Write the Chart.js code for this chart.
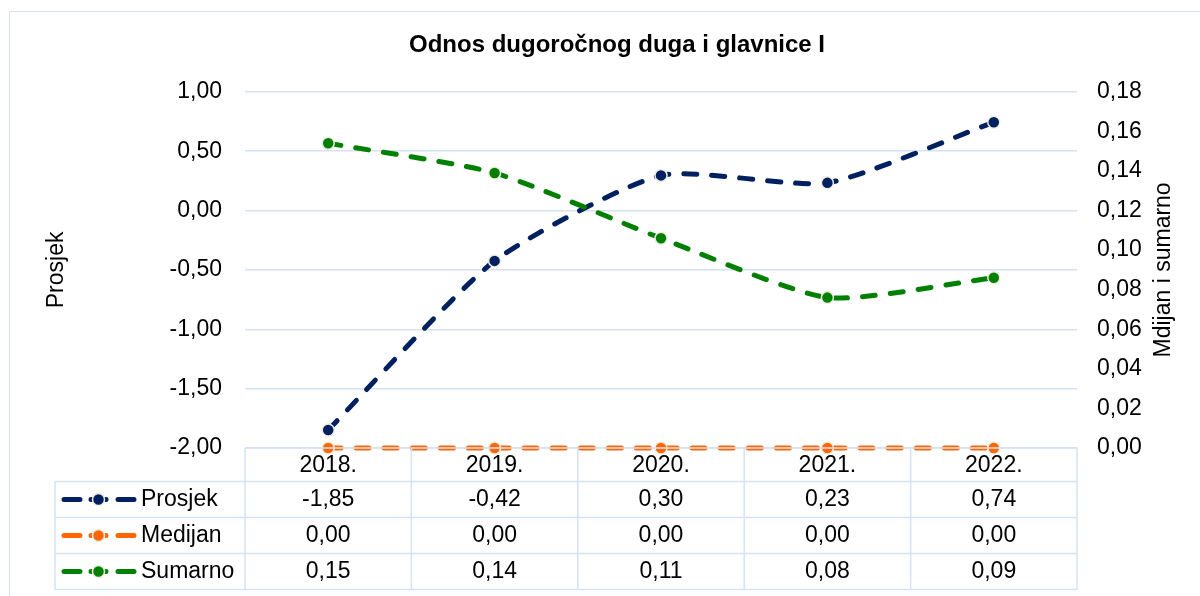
<!DOCTYPE html>
<html>
<head>
<meta charset="utf-8">
<script src="https://cdn.jsdelivr.net/npm/chart.js@4.4.1/dist/chart.umd.min.js"></script>
<style>
body { margin: 0; width: 1200px; height: 596px; overflow: hidden; background: #fff; position: relative; }
#frame { position: absolute; left: 9px; top: 11px; width: 1300px; height: 700px; border: 1.5px solid #d6e2f3; }
#wrap { position: absolute; left: 0; top: 0; width: 1200px; height: 596px; }
</style>
</head>
<body>
<div id="frame"></div>
<div id="wrap"><canvas id="odnosChart" width="1200" height="596"></canvas></div>
<script>
// podaci
var godine = ['2018.', '2019.', '2020.', '2021.', '2022.'];
var prosjek = [-1.848, -0.424, 0.296, 0.233, 0.744];
var medijan = [0, 0, 0, 0, 0];
var sumarno = [0.154, 0.139, 0.106, 0.076, 0.086];
var nazivi = ['Prosjek', 'Medijan', 'Sumarno'];
var boje = ['#002060', '#ff6600', '#008000'];

var font = 'Arial, "Liberation Sans", sans-serif';
var gridColor = '#d6e2f3';
var markerRub = '#f0ece2';

function fmt(v) {
	return v.toFixed(2).replace('.', ',');
}

function serija(i, data, os, red) {
	return {
		label: nazivi[i],
		data: data,
		yAxisID: os,
		order: red,
		borderColor: boje[i],
		backgroundColor: boje[i],
		borderWidth: 5,
		borderDash: [13, 15],
		borderCapStyle: 'round',
		tension: 0.2,
		pointRadius: 6,
		pointBorderWidth: 1.5,
		pointBorderColor: markerRub,
		pointBackgroundColor: boje[i],
		clip: false
	};
}

// tablica s podacima ispod grafikona + naslov desne osi
const tablicaPlugin = {
	id: 'tablica',
	afterDraw: function(chart) {
		const ctx = chart.ctx;
		const area = chart.chartArea;
		const xs = chart.scales.x;
		const colW = (area.right - area.left) / godine.length;
		const headerH = 33.5, rowH = 36;
		const lijevo = 55;
		const top = area.bottom;
		const dno = top + headerH + rowH * 3;
		const redovi = [prosjek, medijan, sumarno];

		ctx.save();
		ctx.strokeStyle = gridColor;
		ctx.lineWidth = 1.5;
		ctx.beginPath();
		ctx.moveTo(area.left, top); ctx.lineTo(area.right, top);
		for (let r = 0; r <= 3; r++) {
			const y = top + headerH + r * rowH;
			ctx.moveTo(lijevo, y); ctx.lineTo(area.right, y);
		}
		for (let c = 0; c <= godine.length; c++) {
			const x = area.left + c * colW;
			ctx.moveTo(x, top); ctx.lineTo(x, dno);
		}
		ctx.moveTo(lijevo, top + headerH); ctx.lineTo(lijevo, dno);
		ctx.stroke();

		ctx.font = '23px ' + font;
		ctx.fillStyle = '#000';
		ctx.textBaseline = 'middle';
		redovi.forEach(function(data, r) {
			const cy = top + headerH + r * rowH + rowH / 2;
			// legenda
			ctx.strokeStyle = boje[r];
			ctx.lineWidth = 5;
			ctx.lineCap = 'round';
			ctx.beginPath();
			ctx.moveTo(64, cy); ctx.lineTo(80, cy);
			ctx.moveTo(118, cy); ctx.lineTo(134, cy);
			ctx.moveTo(91, cy); ctx.lineTo(106, cy);
			ctx.stroke();
			ctx.beginPath();
			ctx.arc(98.5, cy, 6, 0, Math.PI * 2);
			ctx.fillStyle = boje[r];
			ctx.fill();
			ctx.lineWidth = 1.5;
			ctx.strokeStyle = markerRub;
			ctx.stroke();

			ctx.fillStyle = '#000';
			ctx.textAlign = 'left';
			ctx.fillText(nazivi[r], 141, cy);
			ctx.textAlign = 'center';
			data.forEach(function(v, i) {
				ctx.fillText(fmt(v), xs.getPixelForValue(i), cy);
			});
		});

		// naslov desne osi
		ctx.translate(1164, (area.top + area.bottom) / 2);
		ctx.rotate(-Math.PI / 2);
		ctx.textAlign = 'center';
		ctx.fillText('Mdijan i sumarno', 0, 0);
		ctx.restore();
	}
};

const ctx = document.getElementById('odnosChart').getContext('2d');
const odnosChart = new Chart(ctx, {
	type: 'line',
	data: {
		labels: godine,
		datasets: [
			serija(0, prosjek, 'y', 3),
			serija(1, medijan, 'y1', 2),
			serija(2, sumarno, 'y1', 1)
		]
	},
	plugins: [tablicaPlugin],
	options: {
		responsive: false,
		animation: false,
		layout: { padding: { left: 34, right: 0, top: 0, bottom: 0 } },
		plugins: {
			legend: { display: false },
			tooltip: { enabled: false },
			title: {
				display: true,
				text: 'Odnos dugoročnog duga i glavnice I',
				color: '#000',
				font: { family: font, size: 24, weight: 'bold' },
				padding: { top: 31, bottom: 32 }
			}
		},
		scales: {
			x: {
				offset: true,
				grid: { display: false, drawTicks: false },
				border: { display: false },
				ticks: { color: '#000', font: { family: font, size: 23 }, padding: 4 },
				afterFit: function(s) { s.height = 148; }
			},
			y: {
				position: 'left',
				min: -2,
				max: 1,
				ticks: { stepSize: 0.5, color: '#000', font: { family: font, size: 23 }, padding: 23,
					callback: function(v) { return fmt(v); } },
				grid: { color: gridColor, lineWidth: 1.5, drawTicks: false },
				border: { display: false },
				title: { display: true, text: 'Prosjek', color: '#000', font: { family: font, size: 23 }, padding: { top: 9, bottom: 0 } },
				afterFit: function(s) { s.width = 211; }
			},
			y1: {
				position: 'right',
				min: 0,
				max: 0.18,
				ticks: { stepSize: 0.02, color: '#000', font: { family: font, size: 23 }, padding: 20,
					callback: function(v) { return fmt(v); } },
				grid: { display: false, drawTicks: false },
				border: { display: false },
				afterFit: function(s) { s.width = 123; }
			}
		}
	}
});
</script>
</body>
</html>
